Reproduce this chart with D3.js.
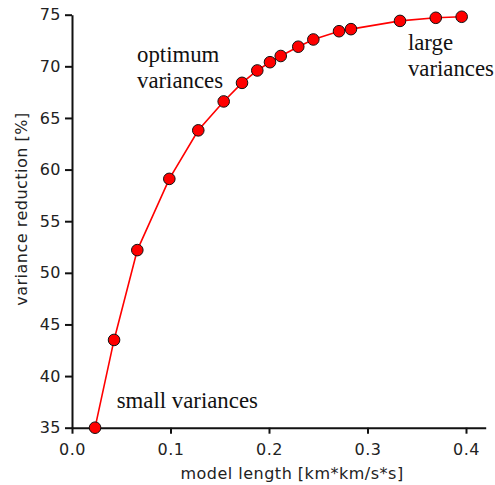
<!DOCTYPE html>
<html>
<head>
<meta charset="utf-8">
<script src="https://cdn.jsdelivr.net/npm/d3@7"></script>
<style>
  body { margin: 0; background: #fff; }
  .axis text { font-family: "DejaVu Sans", sans-serif; font-size: 16px; fill: #222; letter-spacing: 0.5px; }
  .axis path, .axis line { stroke: #111; stroke-width: 2px; }
  .text-label { font-family: "DejaVu Sans", sans-serif; font-size: 16px; fill: #222; letter-spacing: 0.5px; }
  .note { font-family: "Liberation Serif", "Times New Roman", serif; font-size: 22.8px; fill: #111; }
</style>
</head>
<body>
<svg id="svg1" width="495" height="485"></svg>
<script>
// model length vs variance reduction
var modelLength = [0.0234, 0.0427, 0.0663, 0.0988, 0.1282, 0.1540, 0.1726, 0.1881, 0.2010, 0.2119,
                   0.2297, 0.2450, 0.2711, 0.2832, 0.3330, 0.3693, 0.3956];
var varReduction = [35.0, 43.5, 52.2, 59.1, 63.8, 66.6, 68.4, 69.6, 70.4, 71.0,
                    71.9, 72.6, 73.4, 73.6, 74.4, 74.7, 74.8];
var xTicks = [0.0, 0.1, 0.2, 0.3, 0.4];
var yTicks = [35, 40, 45, 50, 55, 60, 65, 70, 75];
var notes = [
  {x: 0.066, y: 70.42, lines: ["optimum", "variances"]},
  {x: 0.341, y: 71.58, lines: ["large", "variances"]},
  {x: 0.0454, y: 36.94, lines: ["small variances"]}
];

var svg = d3.select("#svg1"),
    margin = {top: 14.7, right: 9.3, bottom: 57.3, left: 72},
    width = +svg.attr("width") - margin.left - margin.right,
    height = +svg.attr("height") - margin.top - margin.bottom,
    g = svg.append("g").attr("transform", "translate(" + margin.left + "," + margin.top + ")");

var x = d3.scaleLinear().domain([0, 0.42]).range([0, width]);
var y = d3.scaleLinear().domain([35, 75]).range([height, 0]);

var data = modelLength.map(function(d, i) { return {x: d, y: varReduction[i]}; });

g.append("g")
    .attr("class", "x axis")
    .attr("transform", "translate(0," + height + ")")
    .call(d3.axisBottom(x).tickValues(xTicks).tickFormat(d3.format(".1f")).tickSizeInner(6).tickSizeOuter(0).tickPadding(10))
    .call(function(a) { a.selectAll(".tick line").attr("stroke-width", 1.3); });

g.append("g")
    .attr("class", "y axis")
    .call(d3.axisLeft(y).tickValues(yTicks).tickSizeInner(7).tickSizeOuter(0).tickPadding(4))
    .call(function(a) { a.selectAll(".tick line").attr("stroke-width", 1.5); });

var line = d3.line()
    .x(function(d) { return x(d.x); })
    .y(function(d) { return y(d.y); });

g.append("path")
    .datum(data)
    .attr("fill", "none")
    .attr("stroke", "#ff0000")
    .attr("stroke-width", 1.6)
    .attr("d", line);

g.selectAll(".dot")
    .data(data)
  .enter().append("circle")
    .attr("class", "dot")
    .attr("cx", function(d) { return x(d.x); })
    .attr("cy", function(d) { return y(d.y); })
    .attr("r", 5.8)
    .attr("fill", "#ff0000")
    .attr("stroke", "#111")
    .attr("stroke-width", 1);

notes.forEach(function(n) {
  var t = g.append("text")
      .attr("class", "note")
      .attr("x", x(n.x))
      .attr("y", y(n.y));
  n.lines.forEach(function(s, i) {
    t.append("tspan").attr("x", x(n.x)).attr("dy", i === 0 ? 0 : 26.5).text(s);
  });
});

// x axis label
svg.append("text")
    .attr("class", "text-label")
    .attr("x", 292)
    .attr("y", 479)
    .attr("text-anchor", "middle")
    .text("model length [km*km/s*s]");

// y axis label
svg.append("text")
    .attr("class", "text-label")
    .attr("transform", "translate(27,209) rotate(-90)")
    .attr("text-anchor", "middle")
    .text("variance reduction [%]");
</script>
</body>
</html>
